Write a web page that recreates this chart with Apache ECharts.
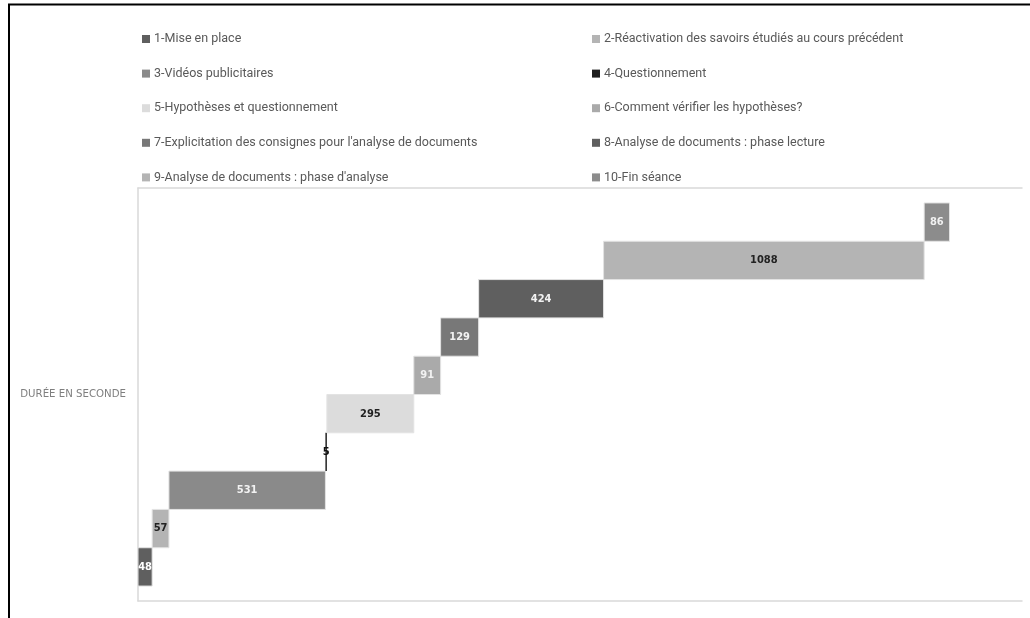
<!DOCTYPE html>
<html>
<head>
<meta charset="utf-8">
<script src="https://cdn.jsdelivr.net/npm/echarts@6/dist/echarts.min.js"></script>
<style>
html,body{margin:0;padding:0;background:#fff;}
#chart{width:1030px;height:618px;}
</style>
</head>
<body>
<div id="chart"></div>
<script>
// ---- data ----
const phases = [
  '1-Mise en place',
  '2-Réactivation des savoirs étudiés au cours précédent',
  '3-Vidéos publicitaires',
  '4-Questionnement',
  '5-Hypothèses et questionnement',
  '6-Comment vérifier les hypothèses?',
  "7-Explicitation des consignes pour l'analyse de documents",
  '8-Analyse de documents : phase lecture',
  "9-Analyse de documents : phase d'analyse",
  '10-Fin séance'
];
const durations = [48, 57, 531, 5, 295, 91, 129, 424, 1088, 86];
const axisTitle = 'DURÉE EN SECONDE';

// ---- styles ----
const palette = ['#5f5f5f', '#b4b4b4', '#8a8a8a', '#1e1e1e', '#dcdcdc', '#aaaaaa', '#787878', '#5f5f5f', '#b4b4b4', '#8c8c8c'];
const labelColors = ['#ffffff', '#222222', '#f2f2f2', '#111111', '#222222', '#f2f2f2', '#f2f2f2', '#f2f2f2', '#222222', '#f2f2f2'];

const starts = [];
let acc = 0;
durations.forEach(d => { starts.push(acc); acc += d; });

const FONT = "'Roboto', 'Liberation Sans', sans-serif";

const series = phases.map((name, i) => ({
  type: 'custom',
  name: name,
  itemStyle: { color: palette[i] },
  encode: { x: [0, 1], y: 2 },
  data: [[starts[i], starts[i] + durations[i], i, durations[i]]],
  renderItem: function (params, api) {
    const p0 = api.coord([api.value(0), api.value(2)]);
    const p1 = api.coord([api.value(1), api.value(2)]);
    const h = api.size([0, 1])[1];
    const w = Math.max(p1[0] - p0[0], 1.2);
    return {
      type: 'rect',
      shape: { x: p0[0], y: p0[1] - h / 2, width: w, height: h },
      style: { fill: palette[i], stroke: i === 3 ? null : '#e3e3e3', lineWidth: 1 },
      textContent: {
        style: {
          text: String(api.value(3)),
          fill: labelColors[i],
          font: "bold 11px 'DejaVu Sans Condensed', 'Liberation Sans', sans-serif"
        }
      },
      textConfig: { position: 'inside' }
    };
  }
}));

const legendBase = {
  orient: 'vertical',
  icon: 'rect',
  itemWidth: 8,
  itemHeight: 8,
  itemGap: 20.6,
  selectedMode: false,
  textStyle: { color: '#595959', fontSize: 12.5, fontFamily: FONT, lineHeight: 14, padding: [0, 0, 0, -1] },
  top: 27
};

const axisLineStyle = { color: '#d9d9d9', width: 1.5 };

const chart = echarts.init(document.getElementById('chart'));
chart.setOption({
  animation: false,
  backgroundColor: '#ffffff',
  legend: [
    Object.assign({}, legendBase, { left: 137, data: phases.filter((_, i) => i % 2 === 0) }),
    Object.assign({}, legendBase, { left: 587, data: phases.filter((_, i) => i % 2 === 1) })
  ],
  grid: { left: 138, right: 8, top: 188, bottom: 17, containLabel: false },
  xAxis: [
    {
      type: 'value', min: 0, max: 3000, position: 'bottom',
      axisLine: { show: true, onZero: false, lineStyle: axisLineStyle },
      axisTick: { show: false }, axisLabel: { show: false }, splitLine: { show: false }
    },
    {
      type: 'value', min: 0, max: 3000, position: 'top',
      axisLine: { show: true, onZero: false, lineStyle: axisLineStyle },
      axisTick: { show: false }, axisLabel: { show: false }, splitLine: { show: false }
    }
  ],
  yAxis: {
    type: 'value', min: -0.89, max: 9.89,
    name: axisTitle,
    nameLocation: 'middle',
    nameRotate: 0,
    nameGap: 12,
    nameTextStyle: { color: '#7f7f7f', fontSize: 10.2, fontFamily: "'DejaVu Sans', sans-serif", align: 'right' },
    axisLine: { show: true, onZero: false, lineStyle: axisLineStyle },
    axisTick: { show: false }, axisLabel: { show: false }, splitLine: { show: false }
  },
  graphic: [{
    type: 'polyline',
    silent: true,
    shape: { points: [[9, 618], [9, 4.5], [1030, 4.5]] },
    style: { stroke: '#000000', lineWidth: 2, fill: null }
  }],
  series: series
});
</script>
</body>
</html>
